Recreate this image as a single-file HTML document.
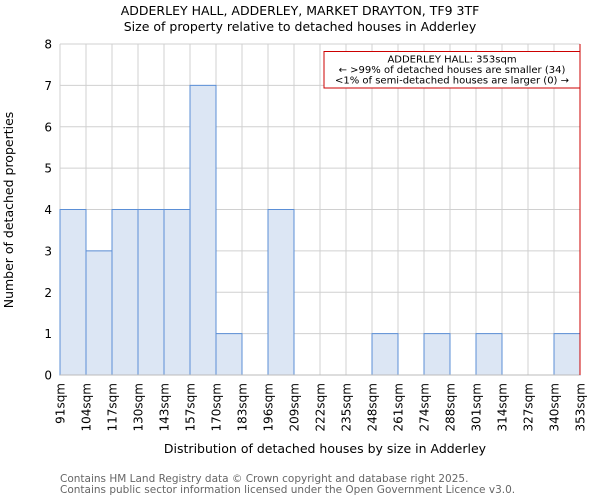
<!DOCTYPE html>
<html><head><meta charset="utf-8"><style>
body{margin:0;background:#fff;}
svg{display:block;font-family:"DejaVu Sans","Liberation Sans",sans-serif;}
</style></head><body>
<svg id="c" width="600" height="500">
<text x="300" y="15" text-anchor="middle" font-size="12.5">ADDERLEY HALL, ADDERLEY, MARKET DRAYTON, TF9 3TF</text>
<text x="300" y="31" text-anchor="middle" font-size="12.5">Size of property relative to detached houses in Adderley</text>
<g id="grid"></g><g id="bars"></g><g id="axes"></g>
<text x="325" y="453" text-anchor="middle" font-size="12.5">Distribution of detached houses by size in Adderley</text>
<text transform="translate(13,210) rotate(-90)" text-anchor="middle" font-size="12.5">Number of detached properties</text>
<text x="60" y="482" font-size="10.5" fill="#666">Contains HM Land Registry data © Crown copyright and database right 2025.</text>
<text x="60" y="493" font-size="10.5" fill="#666">Contains public sector information licensed under the Open Government Licence v3.0.</text>
</svg>
<script>
const categories=["91sqm","104sqm","117sqm","130sqm","143sqm","157sqm","170sqm","183sqm","196sqm","209sqm","222sqm","235sqm","248sqm","261sqm","274sqm","288sqm","301sqm","314sqm","327sqm","340sqm","353sqm"];
const counts=[4,3,4,4,4,7,1,0,4,0,0,0,1,0,1,0,1,0,0,1];
const yTicks=[0,1,2,3,4,5,6,7,8];
const markerIndex=20;
const NS="http://www.w3.org/2000/svg";
const X0=60,X1=580,Y0=375,Y1=44,YMAX=8;
const bw=(X1-X0)/(categories.length-1);
const xs=i=>X0+i*bw, ys=v=>Y0-v*(Y0-Y1)/YMAX;
function mk(p,t,a){const e=document.createElementNS(NS,t);for(const k in a)e.setAttribute(k,a[k]);(typeof p==="string"?document.getElementById(p):p).appendChild(e);return e;}
yTicks.forEach(v=>{
 const l=mk("grid","line",{x1:X0,x2:X1,y1:ys(v),y2:ys(v),stroke:"#d0d0d0","stroke-width":1});
 
 
 const t=mk("axes","text",{x:X0-8,y:ys(v)+4.5,"text-anchor":"end","font-size":12});
 t.textContent=v;
 
 
});
categories.forEach((c,i)=>{
 const l=mk("grid","line",{x1:xs(i),x2:xs(i),y1:Y1,y2:Y0,stroke:"#d0d0d0","stroke-width":1});
 
 
 const x=xs(i)+4.5;
 const t=mk("axes","text",{x:0,y:0,transform:`translate(${x},${Y0+8}) rotate(-90)`,"text-anchor":"end","font-size":12});
 t.textContent=c;
 
 
});
counts.forEach((v,i)=>{
 if(v<=0)return;
 const r=mk("bars","rect",{x:xs(i),y:ys(v),width:bw,height:ys(0)-ys(v),fill:"#dce6f4",stroke:"#5b8fd6","stroke-width":1});
 
 
});
const ax=mk("axes","line",{x1:X0,x2:X1,y1:Y0,y2:Y0,stroke:"#bbb"});


const mx=xs(markerIndex);
const ml=mk("axes","line",{x1:mx,x2:mx,y1:Y1,y2:Y0,stroke:"#c00","stroke-width":1});


const g=mk("axes","g",{});


mk(g,"rect",{x:324,y:51.5,width:mx-324,height:36.5,fill:"#fff",stroke:"#c00","stroke-width":1});
["ADDERLEY HALL: 353sqm","← >99% of detached houses are smaller (34)","<1% of semi-detached houses are larger (0) →"].forEach((s,k)=>{
 const t=mk(g,"text",{x:(324+mx)/2,y:62.5+k*10.5,"text-anchor":"middle","font-size":10});
 t.textContent=s;
});
</script>
</body></html>
